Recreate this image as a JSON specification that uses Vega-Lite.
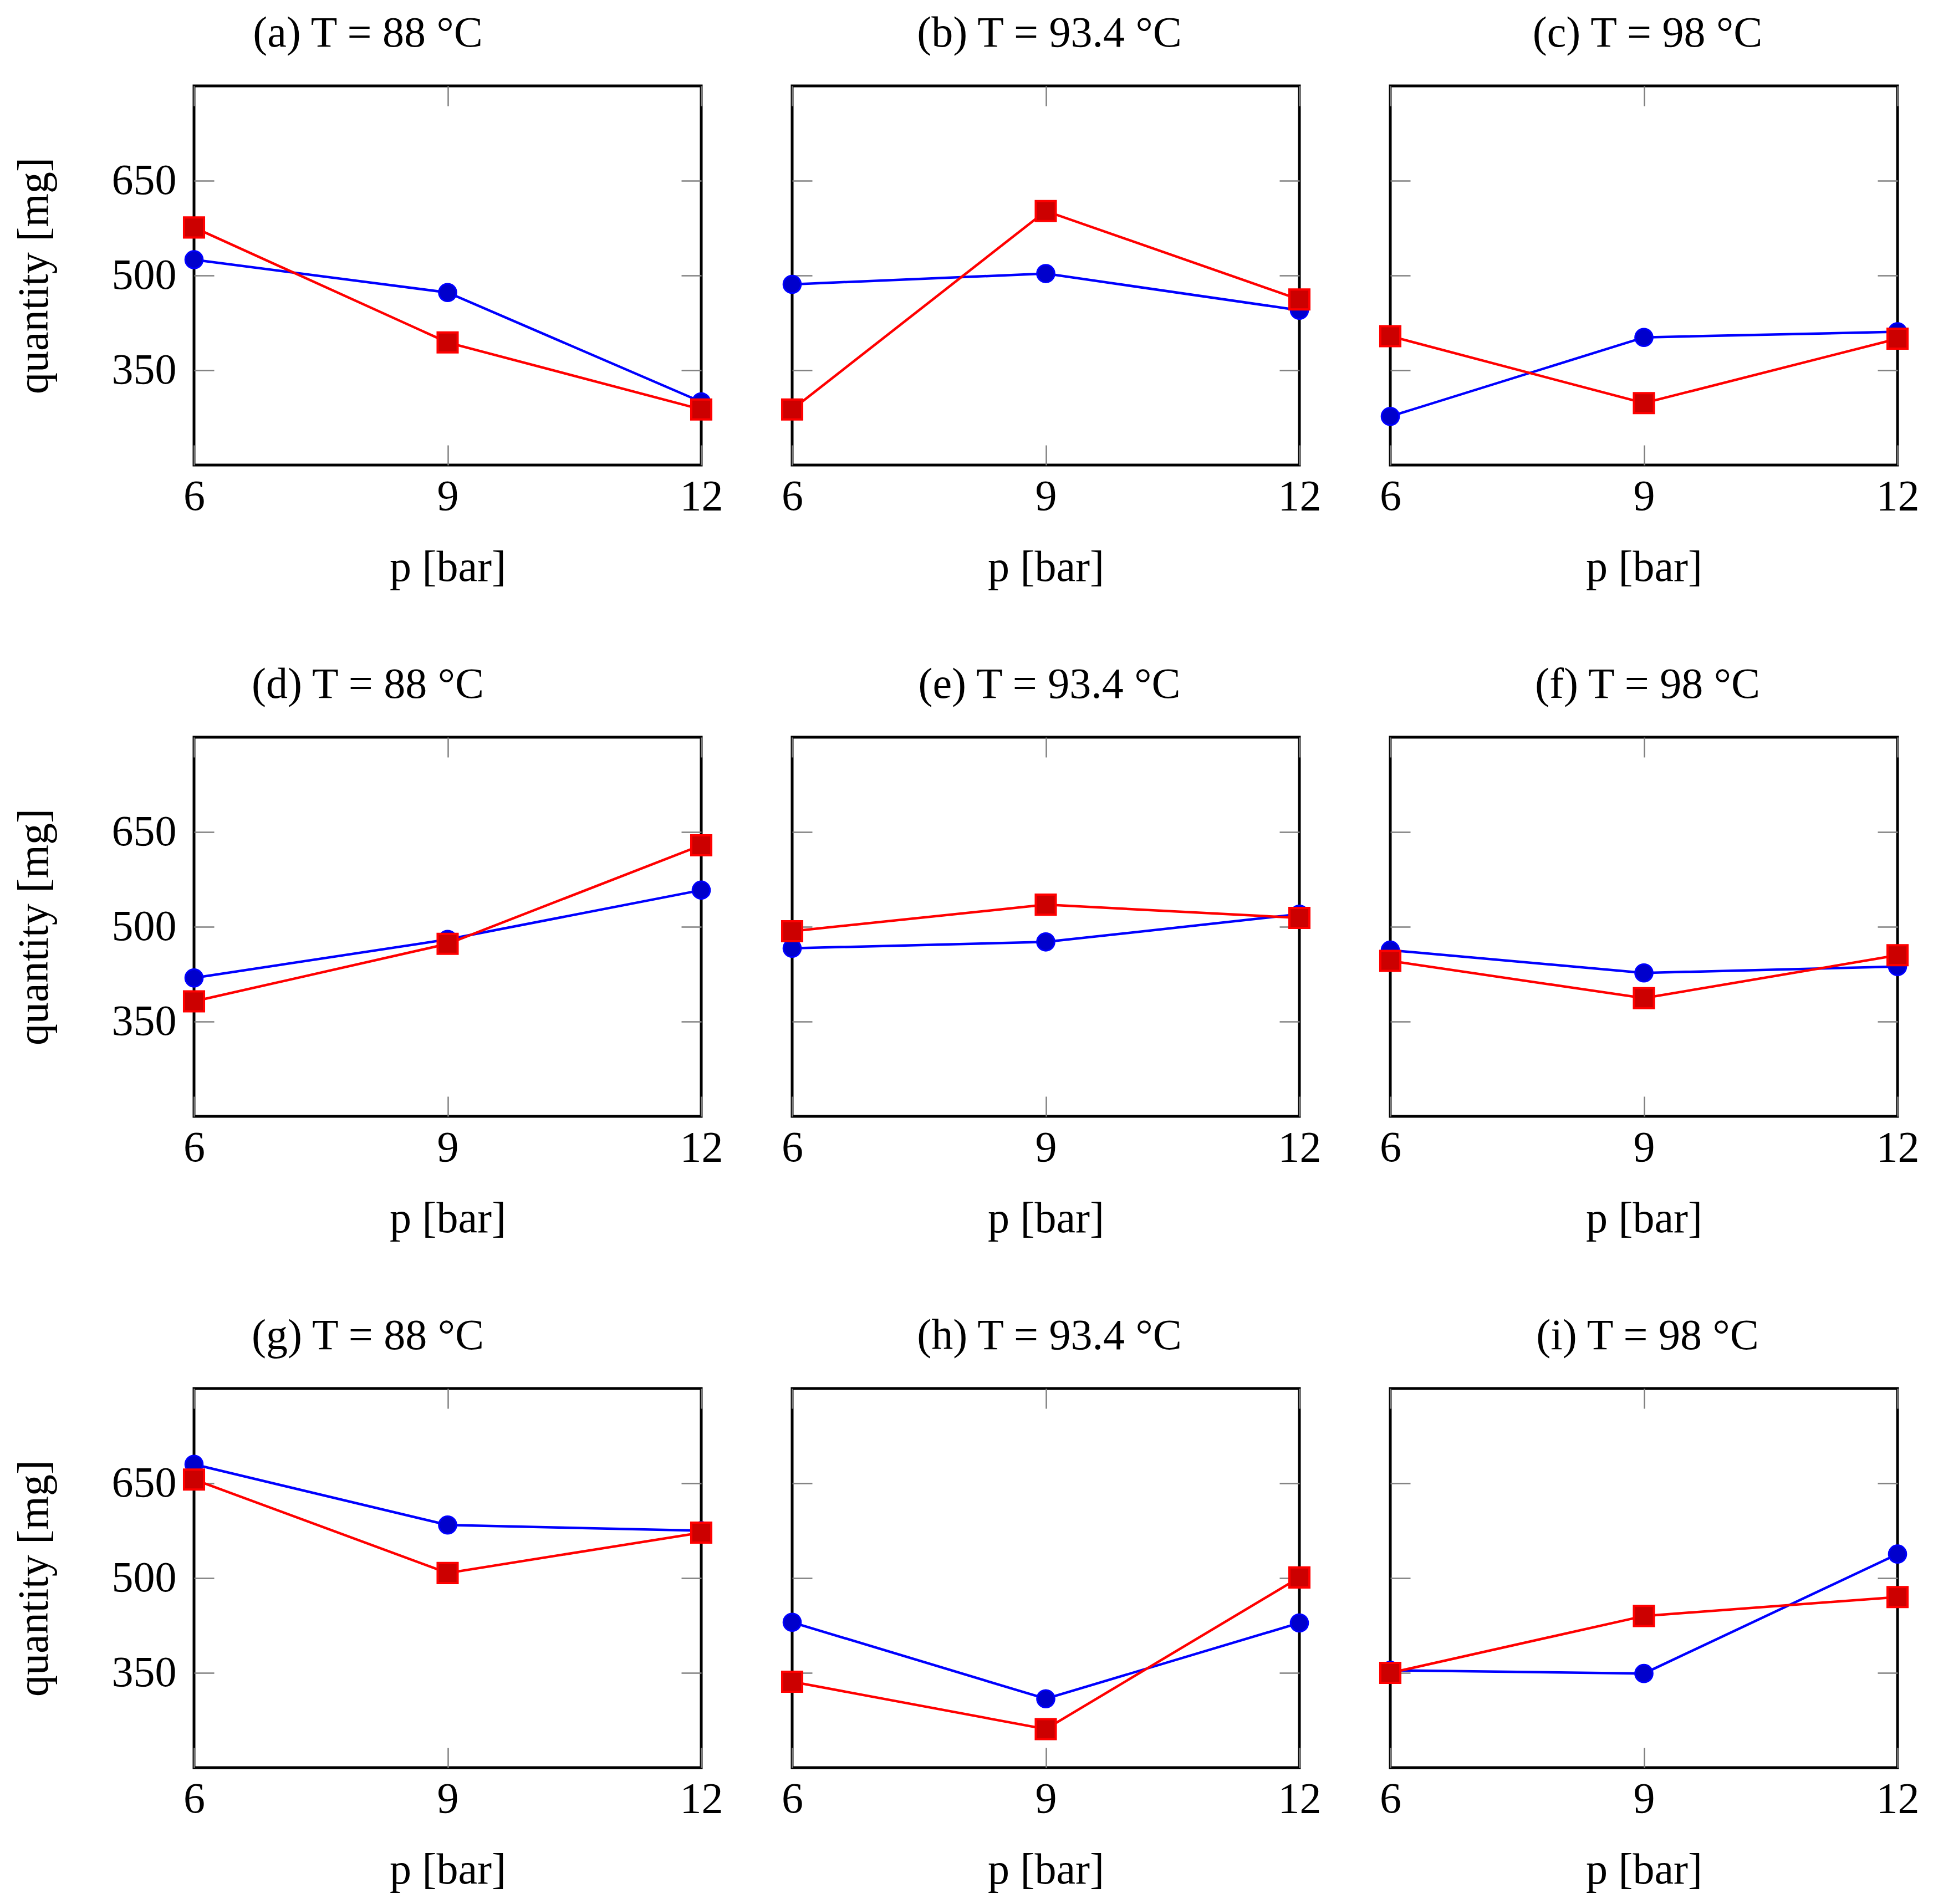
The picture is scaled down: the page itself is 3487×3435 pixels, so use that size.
{
  "$schema": "https://vega.github.io/schema/vega-lite/v6.json",
  "background": "white",
  "padding": {"left": 20, "top": 19, "right": 25, "bottom": 24},
  "datasets": {
    "pts": [
      {"panel": "a", "series": "A", "p": 6, "q": 525},
      {"panel": "a", "series": "A", "p": 9, "q": 473},
      {"panel": "a", "series": "A", "p": 12, "q": 300},
      {"panel": "a", "series": "B", "p": 6, "q": 576},
      {"panel": "a", "series": "B", "p": 9, "q": 394},
      {"panel": "a", "series": "B", "p": 12, "q": 288},
      {"panel": "b", "series": "A", "p": 6, "q": 486},
      {"panel": "b", "series": "A", "p": 9, "q": 503},
      {"panel": "b", "series": "A", "p": 12, "q": 445},
      {"panel": "b", "series": "B", "p": 6, "q": 288},
      {"panel": "b", "series": "B", "p": 9, "q": 602},
      {"panel": "b", "series": "B", "p": 12, "q": 462},
      {"panel": "c", "series": "A", "p": 6, "q": 277},
      {"panel": "c", "series": "A", "p": 9, "q": 402},
      {"panel": "c", "series": "A", "p": 12, "q": 411},
      {"panel": "c", "series": "B", "p": 6, "q": 404},
      {"panel": "c", "series": "B", "p": 9, "q": 298},
      {"panel": "c", "series": "B", "p": 12, "q": 400},
      {"panel": "d", "series": "A", "p": 6, "q": 419},
      {"panel": "d", "series": "A", "p": 9, "q": 480},
      {"panel": "d", "series": "A", "p": 12, "q": 558},
      {"panel": "d", "series": "B", "p": 6, "q": 382},
      {"panel": "d", "series": "B", "p": 9, "q": 473},
      {"panel": "d", "series": "B", "p": 12, "q": 629},
      {"panel": "e", "series": "A", "p": 6, "q": 466},
      {"panel": "e", "series": "A", "p": 9, "q": 476},
      {"panel": "e", "series": "A", "p": 12, "q": 520},
      {"panel": "e", "series": "B", "p": 6, "q": 493},
      {"panel": "e", "series": "B", "p": 9, "q": 535},
      {"panel": "e", "series": "B", "p": 12, "q": 514},
      {"panel": "f", "series": "A", "p": 6, "q": 463},
      {"panel": "f", "series": "A", "p": 9, "q": 427},
      {"panel": "f", "series": "A", "p": 12, "q": 437},
      {"panel": "f", "series": "B", "p": 6, "q": 446},
      {"panel": "f", "series": "B", "p": 9, "q": 387},
      {"panel": "f", "series": "B", "p": 12, "q": 455},
      {"panel": "g", "series": "A", "p": 6, "q": 680},
      {"panel": "g", "series": "A", "p": 9, "q": 584},
      {"panel": "g", "series": "A", "p": 12, "q": 575},
      {"panel": "g", "series": "B", "p": 6, "q": 656},
      {"panel": "g", "series": "B", "p": 9, "q": 508},
      {"panel": "g", "series": "B", "p": 12, "q": 572},
      {"panel": "h", "series": "A", "p": 6, "q": 430},
      {"panel": "h", "series": "A", "p": 9, "q": 309},
      {"panel": "h", "series": "A", "p": 12, "q": 429},
      {"panel": "h", "series": "B", "p": 6, "q": 336},
      {"panel": "h", "series": "B", "p": 9, "q": 261},
      {"panel": "h", "series": "B", "p": 12, "q": 501},
      {"panel": "i", "series": "A", "p": 6, "q": 354},
      {"panel": "i", "series": "A", "p": 9, "q": 349},
      {"panel": "i", "series": "A", "p": 12, "q": 538},
      {"panel": "i", "series": "B", "p": 6, "q": 350},
      {"panel": "i", "series": "B", "p": 9, "q": 440},
      {"panel": "i", "series": "B", "p": 12, "q": 470}
    ]
  },
  "data": {"name": "pts"},
  "columns": 3,
  "spacing": {"row": 491, "column": 164},
  "bounds": "flush",
  "concat": [
    {
      "title": "(a) T = 88 °C",
      "width": 915, "height": 684,
      "transform": [{"filter": "datum.panel === 'a'"}],
      "layer": [
        {"transform": [{"filter": "datum.series === 'A'"}],
         "mark": {"type": "line", "color": "#0000ff", "strokeWidth": 4.5},
         "encoding": {
           "x": {"field": "p", "type": "quantitative", "scale": {"domain": [6, 12]}, "axis": {"orient": "bottom", "values": [6, 9, 12], "title": "p [bar]", "labelPadding": 54, "titlePadding": 50}},
           "y": {"field": "q", "type": "quantitative", "scale": {"domain": [200, 800]}, "axis": {"orient": "left", "values": [350, 500, 650], "title": "quantity [mg]", "labelPadding": 68, "titlePadding": 100}}
         }},
        {"transform": [{"filter": "datum.series === 'A'"}],
         "mark": {"type": "point", "shape": "circle", "size": 1000, "fill": "#0000cc", "stroke": "#0000ff", "strokeWidth": 3, "opacity": 1},
         "encoding": {
           "x": {"field": "p", "type": "quantitative", "axis": {"orient": "top", "values": [6, 9, 12], "labels": false, "title": null}},
           "y": {"field": "q", "type": "quantitative", "axis": {"orient": "right", "values": [350, 500, 650], "labels": false, "title": null}}
         }},
        {"transform": [{"filter": "datum.series === 'B'"}],
         "mark": {"type": "line", "color": "#ff0000", "strokeWidth": 4.5},
         "encoding": {
           "x": {"field": "p", "type": "quantitative", "axis": null},
           "y": {"field": "q", "type": "quantitative", "axis": null}
         }},
        {"transform": [{"filter": "datum.series === 'B'"}],
         "mark": {"type": "point", "shape": "square", "size": 1300, "fill": "#cc0000", "stroke": "#ff0000", "strokeWidth": 4, "opacity": 1},
         "encoding": {
           "x": {"field": "p", "type": "quantitative", "axis": null},
           "y": {"field": "q", "type": "quantitative", "axis": null}
         }}
      ],
      "resolve": {"axis": {"x": "independent", "y": "independent"}}
    },
    {
      "title": "(b) T = 93.4 °C",
      "width": 915, "height": 684,
      "transform": [{"filter": "datum.panel === 'b'"}],
      "layer": [
        {"transform": [{"filter": "datum.series === 'A'"}],
         "mark": {"type": "line", "color": "#0000ff", "strokeWidth": 4.5},
         "encoding": {
           "x": {"field": "p", "type": "quantitative", "scale": {"domain": [6, 12]}, "axis": {"orient": "bottom", "values": [6, 9, 12], "title": "p [bar]", "labelPadding": 54, "titlePadding": 50}},
           "y": {"field": "q", "type": "quantitative", "scale": {"domain": [200, 800]}, "axis": {"orient": "left", "values": [350, 500, 650], "labels": false, "title": null}}
         }},
        {"transform": [{"filter": "datum.series === 'A'"}],
         "mark": {"type": "point", "shape": "circle", "size": 1000, "fill": "#0000cc", "stroke": "#0000ff", "strokeWidth": 3, "opacity": 1},
         "encoding": {
           "x": {"field": "p", "type": "quantitative", "axis": {"orient": "top", "values": [6, 9, 12], "labels": false, "title": null}},
           "y": {"field": "q", "type": "quantitative", "axis": {"orient": "right", "values": [350, 500, 650], "labels": false, "title": null}}
         }},
        {"transform": [{"filter": "datum.series === 'B'"}],
         "mark": {"type": "line", "color": "#ff0000", "strokeWidth": 4.5},
         "encoding": {
           "x": {"field": "p", "type": "quantitative", "axis": null},
           "y": {"field": "q", "type": "quantitative", "axis": null}
         }},
        {"transform": [{"filter": "datum.series === 'B'"}],
         "mark": {"type": "point", "shape": "square", "size": 1300, "fill": "#cc0000", "stroke": "#ff0000", "strokeWidth": 4, "opacity": 1},
         "encoding": {
           "x": {"field": "p", "type": "quantitative", "axis": null},
           "y": {"field": "q", "type": "quantitative", "axis": null}
         }}
      ],
      "resolve": {"axis": {"x": "independent", "y": "independent"}}
    },
    {
      "title": "(c) T = 98 °C",
      "width": 915, "height": 684,
      "transform": [{"filter": "datum.panel === 'c'"}],
      "layer": [
        {"transform": [{"filter": "datum.series === 'A'"}],
         "mark": {"type": "line", "color": "#0000ff", "strokeWidth": 4.5},
         "encoding": {
           "x": {"field": "p", "type": "quantitative", "scale": {"domain": [6, 12]}, "axis": {"orient": "bottom", "values": [6, 9, 12], "title": "p [bar]", "labelPadding": 54, "titlePadding": 50}},
           "y": {"field": "q", "type": "quantitative", "scale": {"domain": [200, 800]}, "axis": {"orient": "left", "values": [350, 500, 650], "labels": false, "title": null}}
         }},
        {"transform": [{"filter": "datum.series === 'A'"}],
         "mark": {"type": "point", "shape": "circle", "size": 1000, "fill": "#0000cc", "stroke": "#0000ff", "strokeWidth": 3, "opacity": 1},
         "encoding": {
           "x": {"field": "p", "type": "quantitative", "axis": {"orient": "top", "values": [6, 9, 12], "labels": false, "title": null}},
           "y": {"field": "q", "type": "quantitative", "axis": {"orient": "right", "values": [350, 500, 650], "labels": false, "title": null}}
         }},
        {"transform": [{"filter": "datum.series === 'B'"}],
         "mark": {"type": "line", "color": "#ff0000", "strokeWidth": 4.5},
         "encoding": {
           "x": {"field": "p", "type": "quantitative", "axis": null},
           "y": {"field": "q", "type": "quantitative", "axis": null}
         }},
        {"transform": [{"filter": "datum.series === 'B'"}],
         "mark": {"type": "point", "shape": "square", "size": 1300, "fill": "#cc0000", "stroke": "#ff0000", "strokeWidth": 4, "opacity": 1},
         "encoding": {
           "x": {"field": "p", "type": "quantitative", "axis": null},
           "y": {"field": "q", "type": "quantitative", "axis": null}
         }}
      ],
      "resolve": {"axis": {"x": "independent", "y": "independent"}}
    },
    {
      "title": "(d) T = 88 °C",
      "width": 915, "height": 684,
      "transform": [{"filter": "datum.panel === 'd'"}],
      "layer": [
        {"transform": [{"filter": "datum.series === 'A'"}],
         "mark": {"type": "line", "color": "#0000ff", "strokeWidth": 4.5},
         "encoding": {
           "x": {"field": "p", "type": "quantitative", "scale": {"domain": [6, 12]}, "axis": {"orient": "bottom", "values": [6, 9, 12], "title": "p [bar]", "labelPadding": 54, "titlePadding": 50}},
           "y": {"field": "q", "type": "quantitative", "scale": {"domain": [200, 800]}, "axis": {"orient": "left", "values": [350, 500, 650], "title": "quantity [mg]", "labelPadding": 68, "titlePadding": 100}}
         }},
        {"transform": [{"filter": "datum.series === 'A'"}],
         "mark": {"type": "point", "shape": "circle", "size": 1000, "fill": "#0000cc", "stroke": "#0000ff", "strokeWidth": 3, "opacity": 1},
         "encoding": {
           "x": {"field": "p", "type": "quantitative", "axis": {"orient": "top", "values": [6, 9, 12], "labels": false, "title": null}},
           "y": {"field": "q", "type": "quantitative", "axis": {"orient": "right", "values": [350, 500, 650], "labels": false, "title": null}}
         }},
        {"transform": [{"filter": "datum.series === 'B'"}],
         "mark": {"type": "line", "color": "#ff0000", "strokeWidth": 4.5},
         "encoding": {
           "x": {"field": "p", "type": "quantitative", "axis": null},
           "y": {"field": "q", "type": "quantitative", "axis": null}
         }},
        {"transform": [{"filter": "datum.series === 'B'"}],
         "mark": {"type": "point", "shape": "square", "size": 1300, "fill": "#cc0000", "stroke": "#ff0000", "strokeWidth": 4, "opacity": 1},
         "encoding": {
           "x": {"field": "p", "type": "quantitative", "axis": null},
           "y": {"field": "q", "type": "quantitative", "axis": null}
         }}
      ],
      "resolve": {"axis": {"x": "independent", "y": "independent"}}
    },
    {
      "title": "(e) T = 93.4 °C",
      "width": 915, "height": 684,
      "transform": [{"filter": "datum.panel === 'e'"}],
      "layer": [
        {"transform": [{"filter": "datum.series === 'A'"}],
         "mark": {"type": "line", "color": "#0000ff", "strokeWidth": 4.5},
         "encoding": {
           "x": {"field": "p", "type": "quantitative", "scale": {"domain": [6, 12]}, "axis": {"orient": "bottom", "values": [6, 9, 12], "title": "p [bar]", "labelPadding": 54, "titlePadding": 50}},
           "y": {"field": "q", "type": "quantitative", "scale": {"domain": [200, 800]}, "axis": {"orient": "left", "values": [350, 500, 650], "labels": false, "title": null}}
         }},
        {"transform": [{"filter": "datum.series === 'A'"}],
         "mark": {"type": "point", "shape": "circle", "size": 1000, "fill": "#0000cc", "stroke": "#0000ff", "strokeWidth": 3, "opacity": 1},
         "encoding": {
           "x": {"field": "p", "type": "quantitative", "axis": {"orient": "top", "values": [6, 9, 12], "labels": false, "title": null}},
           "y": {"field": "q", "type": "quantitative", "axis": {"orient": "right", "values": [350, 500, 650], "labels": false, "title": null}}
         }},
        {"transform": [{"filter": "datum.series === 'B'"}],
         "mark": {"type": "line", "color": "#ff0000", "strokeWidth": 4.5},
         "encoding": {
           "x": {"field": "p", "type": "quantitative", "axis": null},
           "y": {"field": "q", "type": "quantitative", "axis": null}
         }},
        {"transform": [{"filter": "datum.series === 'B'"}],
         "mark": {"type": "point", "shape": "square", "size": 1300, "fill": "#cc0000", "stroke": "#ff0000", "strokeWidth": 4, "opacity": 1},
         "encoding": {
           "x": {"field": "p", "type": "quantitative", "axis": null},
           "y": {"field": "q", "type": "quantitative", "axis": null}
         }}
      ],
      "resolve": {"axis": {"x": "independent", "y": "independent"}}
    },
    {
      "title": "(f) T = 98 °C",
      "width": 915, "height": 684,
      "transform": [{"filter": "datum.panel === 'f'"}],
      "layer": [
        {"transform": [{"filter": "datum.series === 'A'"}],
         "mark": {"type": "line", "color": "#0000ff", "strokeWidth": 4.5},
         "encoding": {
           "x": {"field": "p", "type": "quantitative", "scale": {"domain": [6, 12]}, "axis": {"orient": "bottom", "values": [6, 9, 12], "title": "p [bar]", "labelPadding": 54, "titlePadding": 50}},
           "y": {"field": "q", "type": "quantitative", "scale": {"domain": [200, 800]}, "axis": {"orient": "left", "values": [350, 500, 650], "labels": false, "title": null}}
         }},
        {"transform": [{"filter": "datum.series === 'A'"}],
         "mark": {"type": "point", "shape": "circle", "size": 1000, "fill": "#0000cc", "stroke": "#0000ff", "strokeWidth": 3, "opacity": 1},
         "encoding": {
           "x": {"field": "p", "type": "quantitative", "axis": {"orient": "top", "values": [6, 9, 12], "labels": false, "title": null}},
           "y": {"field": "q", "type": "quantitative", "axis": {"orient": "right", "values": [350, 500, 650], "labels": false, "title": null}}
         }},
        {"transform": [{"filter": "datum.series === 'B'"}],
         "mark": {"type": "line", "color": "#ff0000", "strokeWidth": 4.5},
         "encoding": {
           "x": {"field": "p", "type": "quantitative", "axis": null},
           "y": {"field": "q", "type": "quantitative", "axis": null}
         }},
        {"transform": [{"filter": "datum.series === 'B'"}],
         "mark": {"type": "point", "shape": "square", "size": 1300, "fill": "#cc0000", "stroke": "#ff0000", "strokeWidth": 4, "opacity": 1},
         "encoding": {
           "x": {"field": "p", "type": "quantitative", "axis": null},
           "y": {"field": "q", "type": "quantitative", "axis": null}
         }}
      ],
      "resolve": {"axis": {"x": "independent", "y": "independent"}}
    },
    {
      "title": "(g) T = 88 °C",
      "width": 915, "height": 684,
      "transform": [{"filter": "datum.panel === 'g'"}],
      "layer": [
        {"transform": [{"filter": "datum.series === 'A'"}],
         "mark": {"type": "line", "color": "#0000ff", "strokeWidth": 4.5},
         "encoding": {
           "x": {"field": "p", "type": "quantitative", "scale": {"domain": [6, 12]}, "axis": {"orient": "bottom", "values": [6, 9, 12], "title": "p [bar]", "labelPadding": 54, "titlePadding": 50}},
           "y": {"field": "q", "type": "quantitative", "scale": {"domain": [200, 800]}, "axis": {"orient": "left", "values": [350, 500, 650], "title": "quantity [mg]", "labelPadding": 68, "titlePadding": 100}}
         }},
        {"transform": [{"filter": "datum.series === 'A'"}],
         "mark": {"type": "point", "shape": "circle", "size": 1000, "fill": "#0000cc", "stroke": "#0000ff", "strokeWidth": 3, "opacity": 1},
         "encoding": {
           "x": {"field": "p", "type": "quantitative", "axis": {"orient": "top", "values": [6, 9, 12], "labels": false, "title": null}},
           "y": {"field": "q", "type": "quantitative", "axis": {"orient": "right", "values": [350, 500, 650], "labels": false, "title": null}}
         }},
        {"transform": [{"filter": "datum.series === 'B'"}],
         "mark": {"type": "line", "color": "#ff0000", "strokeWidth": 4.5},
         "encoding": {
           "x": {"field": "p", "type": "quantitative", "axis": null},
           "y": {"field": "q", "type": "quantitative", "axis": null}
         }},
        {"transform": [{"filter": "datum.series === 'B'"}],
         "mark": {"type": "point", "shape": "square", "size": 1300, "fill": "#cc0000", "stroke": "#ff0000", "strokeWidth": 4, "opacity": 1},
         "encoding": {
           "x": {"field": "p", "type": "quantitative", "axis": null},
           "y": {"field": "q", "type": "quantitative", "axis": null}
         }}
      ],
      "resolve": {"axis": {"x": "independent", "y": "independent"}}
    },
    {
      "title": "(h) T = 93.4 °C",
      "width": 915, "height": 684,
      "transform": [{"filter": "datum.panel === 'h'"}],
      "layer": [
        {"transform": [{"filter": "datum.series === 'A'"}],
         "mark": {"type": "line", "color": "#0000ff", "strokeWidth": 4.5},
         "encoding": {
           "x": {"field": "p", "type": "quantitative", "scale": {"domain": [6, 12]}, "axis": {"orient": "bottom", "values": [6, 9, 12], "title": "p [bar]", "labelPadding": 54, "titlePadding": 50}},
           "y": {"field": "q", "type": "quantitative", "scale": {"domain": [200, 800]}, "axis": {"orient": "left", "values": [350, 500, 650], "labels": false, "title": null}}
         }},
        {"transform": [{"filter": "datum.series === 'A'"}],
         "mark": {"type": "point", "shape": "circle", "size": 1000, "fill": "#0000cc", "stroke": "#0000ff", "strokeWidth": 3, "opacity": 1},
         "encoding": {
           "x": {"field": "p", "type": "quantitative", "axis": {"orient": "top", "values": [6, 9, 12], "labels": false, "title": null}},
           "y": {"field": "q", "type": "quantitative", "axis": {"orient": "right", "values": [350, 500, 650], "labels": false, "title": null}}
         }},
        {"transform": [{"filter": "datum.series === 'B'"}],
         "mark": {"type": "line", "color": "#ff0000", "strokeWidth": 4.5},
         "encoding": {
           "x": {"field": "p", "type": "quantitative", "axis": null},
           "y": {"field": "q", "type": "quantitative", "axis": null}
         }},
        {"transform": [{"filter": "datum.series === 'B'"}],
         "mark": {"type": "point", "shape": "square", "size": 1300, "fill": "#cc0000", "stroke": "#ff0000", "strokeWidth": 4, "opacity": 1},
         "encoding": {
           "x": {"field": "p", "type": "quantitative", "axis": null},
           "y": {"field": "q", "type": "quantitative", "axis": null}
         }}
      ],
      "resolve": {"axis": {"x": "independent", "y": "independent"}}
    },
    {
      "title": "(i) T = 98 °C",
      "width": 915, "height": 684,
      "transform": [{"filter": "datum.panel === 'i'"}],
      "layer": [
        {"transform": [{"filter": "datum.series === 'A'"}],
         "mark": {"type": "line", "color": "#0000ff", "strokeWidth": 4.5},
         "encoding": {
           "x": {"field": "p", "type": "quantitative", "scale": {"domain": [6, 12]}, "axis": {"orient": "bottom", "values": [6, 9, 12], "title": "p [bar]", "labelPadding": 54, "titlePadding": 50}},
           "y": {"field": "q", "type": "quantitative", "scale": {"domain": [200, 800]}, "axis": {"orient": "left", "values": [350, 500, 650], "labels": false, "title": null}}
         }},
        {"transform": [{"filter": "datum.series === 'A'"}],
         "mark": {"type": "point", "shape": "circle", "size": 1000, "fill": "#0000cc", "stroke": "#0000ff", "strokeWidth": 3, "opacity": 1},
         "encoding": {
           "x": {"field": "p", "type": "quantitative", "axis": {"orient": "top", "values": [6, 9, 12], "labels": false, "title": null}},
           "y": {"field": "q", "type": "quantitative", "axis": {"orient": "right", "values": [350, 500, 650], "labels": false, "title": null}}
         }},
        {"transform": [{"filter": "datum.series === 'B'"}],
         "mark": {"type": "line", "color": "#ff0000", "strokeWidth": 4.5},
         "encoding": {
           "x": {"field": "p", "type": "quantitative", "axis": null},
           "y": {"field": "q", "type": "quantitative", "axis": null}
         }},
        {"transform": [{"filter": "datum.series === 'B'"}],
         "mark": {"type": "point", "shape": "square", "size": 1300, "fill": "#cc0000", "stroke": "#ff0000", "strokeWidth": 4, "opacity": 1},
         "encoding": {
           "x": {"field": "p", "type": "quantitative", "axis": null},
           "y": {"field": "q", "type": "quantitative", "axis": null}
         }}
      ],
      "resolve": {"axis": {"x": "independent", "y": "independent"}}
    }
  ],
  "config": {
    "font": "Liberation Serif",
    "view": {"stroke": "black", "strokeWidth": 5},
    "axis": {
      "grid": false,
      "domain": false,
      "tickSize": -36,
      "tickColor": "#808080",
      "tickWidth": 2.5,
      "labelFont": "Liberation Serif",
      "labelFontSize": 78,
      "labelColor": "black",
      "labelFlush": false,
      "labelOverlap": false,
      "titleFont": "Liberation Serif",
      "titleFontSize": 78,
      "titleFontWeight": "normal",
      "titleColor": "black"
    },
    "title": {
      "font": "Liberation Serif",
      "fontSize": 78,
      "fontWeight": "normal",
      "color": "black",
      "anchor": "middle",
      "frame": "bounds",
      "baseline": "alphabetic",
      "offset": 54
    }
  }
}
